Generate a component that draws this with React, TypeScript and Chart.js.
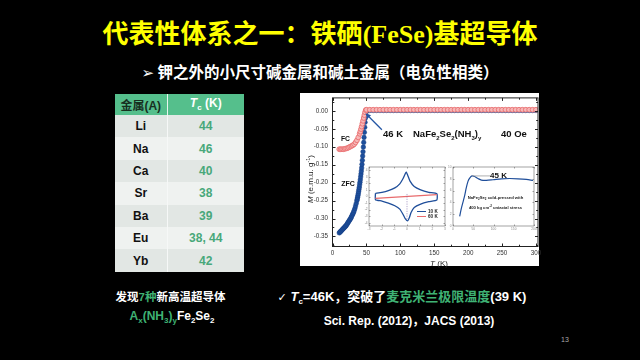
import React, { useEffect, useRef } from 'react';
import { Chart, registerables } from 'chart.js';
Chart.register(...registerables);

// ---------- data ----------
const metals = ['Li', 'Na', 'Ca', 'Sr', 'Ba', 'Eu', 'Yb'];
const tcValues = ['44', '46', '40', '38', '39', '38, 44', '42'];

const fcT = [10, 12, 14, 16, 18, 20, 22, 24, 26, 28, 30, 32, 34, 36, 38, 40, 41, 42, 43, 44, 45, 46, 47, 48, 49, 50,
  55, 60, 65, 70, 75, 80, 85, 90, 95, 100, 105, 110, 115, 120, 125, 130, 135, 140, 145, 150, 155, 160, 165, 170, 175,
  180, 185, 190, 195, 200, 205, 210, 215, 220, 225, 230, 235, 240, 245, 250, 255, 260, 265, 270, 275, 280, 285, 290, 295, 300];
const fcM = [-0.107, -0.107, -0.107, -0.107, -0.106, -0.105, -0.104, -0.102, -0.100, -0.098, -0.096, -0.093, -0.088, -0.082, -0.074, -0.064, -0.058, -0.051, -0.044, -0.036, -0.028, -0.020, -0.012, -0.004, 0.002, 0.003,
  0.003, 0.003, 0.003, 0.003, 0.003, 0.003, 0.003, 0.003, 0.003, 0.003, 0.003, 0.003, 0.003, 0.003, 0.003, 0.003, 0.003, 0.003, 0.003, 0.003, 0.003, 0.003, 0.003, 0.003, 0.003,
  0.003, 0.003, 0.003, 0.003, 0.003, 0.003, 0.003, 0.003, 0.003, 0.003, 0.003, 0.003, 0.003, 0.003, 0.003, 0.003, 0.003, 0.003, 0.003, 0.003, 0.003, 0.003, 0.003, 0.003, 0.003];

const zfcT = [10, 11, 12, 13, 14, 15, 16, 17, 18, 19, 20, 21, 22, 23, 24, 25, 26, 27, 28, 29, 30, 31, 32, 33, 34, 35,
  36, 36.5, 37, 37.5, 38, 38.5, 39, 39.5, 40, 40.5, 41, 41.5, 42, 42.5, 43, 43.5, 44, 44.5, 45, 45.5, 46, 46.5, 47, 47.5, 48, 48.5, 49, 49.5, 50,
  55, 60, 65, 70, 75, 80, 85, 90, 95, 100, 105, 110, 115, 120, 125, 130, 135, 140, 145, 150, 155, 160, 165, 170, 175,
  180, 185, 190, 195, 200, 205, 210, 215, 220, 225, 230, 235, 240, 245, 250, 255, 260, 265, 270, 275, 280, 285, 290, 295, 300];
const zfcM = [-0.340, -0.338, -0.336, -0.334, -0.332, -0.330, -0.328, -0.326, -0.324, -0.322, -0.320, -0.317, -0.314, -0.311, -0.308, -0.305, -0.302, -0.299, -0.295, -0.291, -0.287, -0.283, -0.278, -0.272, -0.265, -0.258,
  -0.250, -0.246, -0.241, -0.236, -0.231, -0.225, -0.219, -0.213, -0.206, -0.199, -0.192, -0.184, -0.176, -0.168, -0.159, -0.149, -0.138, -0.126, -0.114, -0.101, -0.088, -0.074, -0.060, -0.046, -0.032, -0.020, -0.010, -0.003, 0.000,
  0.001, 0.001, 0.001, 0.001, 0.001, 0.001, 0.001, 0.001, 0.001, 0.001, 0.001, 0.001, 0.001, 0.001, 0.001, 0.001, 0.001, 0.001, 0.001, 0.001, 0.001, 0.001, 0.001, 0.001, 0.001,
  0.001, 0.001, 0.001, 0.001, 0.001, 0.001, 0.001, 0.001, 0.001, 0.001, 0.001, 0.001, 0.001, 0.001, 0.001, 0.001, 0.001, 0.001, 0.001, 0.001, 0.001, 0.001, 0.001, 0.001, 0.001];

const xTicks = [0, 50, 100, 150, 200, 250, 300];
const xMinor = [25, 75, 125, 175, 225, 275];
const yTicks = [0, -0.05, -0.1, -0.15, -0.2, -0.25, -0.3, -0.35];
const yMinor = [0.025, -0.025, -0.075, -0.125, -0.175, -0.225, -0.275, -0.325, -0.375];
const arrowFrom = { x: 72.8, y: -0.0527 };
const arrowTo = { x: 48.5, y: -0.0065 };

// inset 1: M-H loops
const in1LoopX = [-2.49, -1.98, -1.47, -0.96, -0.57, -0.32, -0.14, -0.06, 0.06, 0.24, 0.57, 1.08, 1.72, 2.36,
  2.36, 1.72, 1.08, 0.57, 0.32, 0.19, 0.06, -0.14, -0.32, -0.57, -0.96, -1.47, -1.98, -2.49, -2.49];
const in1LoopY = [0.49, 0.64, 0.90, 1.31, 1.93, 2.70, 3.47, 3.73, 3.22, 2.34, 1.52, 1.00, 0.64, 0.44,
  -0.54, -0.80, -1.16, -1.67, -2.44, -3.22, -3.73, -3.37, -2.70, -1.93, -1.41, -1.00, -0.69, -0.49, 0.49];
const in1RedX = [-2.49, 2.36];
const in1RedY = [-0.28, 0.28];
const in1DashX = [0, 0];
const in1DashY = [0.39, -3.47];
const in1XTicks = [-3, -2, -1, 0, 1, 2, 3];
const in1YTicks = [-4, -3, -2, -1, 0, 1, 2, 3, 4];

// inset 2: susceptibility vs T
const in2T = [16.5, 20.6, 24.7, 28.8, 32.9, 37.0, 41.2, 46.9, 53.5, 61.7, 70.0, 82.3, 98.8, 119.3, 139.9, 160.5, 181.1, 197.5];
const in2V = [1.62, 2.97, 4.05, 5.14, 6.49, 7.57, 8.11, 8.49, 8.38, 8.05, 7.78, 7.73, 7.84, 8.0, 8.05, 8.0, 7.89, 7.73];
const in2LeaderX = [47, 92];
const in2LeaderY = [8.49, 8.49];
const in2XTicks = [0, 50, 100, 150, 200];
const in2YTicks = [0, 2, 4, 6, 8, 10];

const SANS = '"Liberation Sans", Arial, "Noto Sans CJK SC", sans-serif';

const pts = (xs: number[], ys: number[]) => xs.map((x, i) => ({ x, y: ys[i] }));

function frameTicks(o: any) {
  return {
    id: 'frameTicks',
    afterDatasetsDraw(chart: any) {
      const { ctx, chartArea: a, scales } = chart;
      ctx.save();
      ctx.strokeStyle = o.color;
      ctx.lineWidth = o.lw;
      ctx.beginPath();
      const vx = (vals: number[], len: number) => vals.forEach((v) => {
        const p = Math.round(scales.x.getPixelForValue(v)) + 0.5;
        ctx.moveTo(p, a.bottom); ctx.lineTo(p, a.bottom - len);
        ctx.moveTo(p, a.top); ctx.lineTo(p, a.top + len);
      });
      const vy = (vals: number[], len: number) => vals.forEach((v) => {
        const p = Math.round(scales.y.getPixelForValue(v)) + 0.5;
        if (p < a.top || p > a.bottom) return;
        ctx.moveTo(a.left, p); ctx.lineTo(a.left + len, p);
        ctx.moveTo(a.right, p); ctx.lineTo(a.right - len, p);
      });
      vx(o.xTicks, o.major); vx(o.xMinor || [], o.minor);
      vy(o.yTicks, o.major); vy(o.yMinor || [], o.minor);
      ctx.stroke();
      ctx.strokeRect(a.left, a.top, a.right - a.left, a.bottom - a.top);
      ctx.restore();
    },
  };
}

const arrowPlugin = {
  id: 'arrow',
  afterDatasetsDraw(chart: any) {
    const { ctx, scales } = chart;
    const x1 = scales.x.getPixelForValue(arrowFrom.x), y1 = scales.y.getPixelForValue(arrowFrom.y);
    const x2 = scales.x.getPixelForValue(arrowTo.x), y2 = scales.y.getPixelForValue(arrowTo.y);
    const ang = Math.atan2(y2 - y1, x2 - x1);
    ctx.save();
    ctx.strokeStyle = '#2456a4';
    ctx.fillStyle = '#2456a4';
    ctx.lineWidth = 1.3;
    ctx.beginPath();
    ctx.moveTo(x1, y1);
    ctx.lineTo(x2 - 4 * Math.cos(ang), y2 - 4 * Math.sin(ang));
    ctx.stroke();
    ctx.beginPath();
    ctx.moveTo(x2, y2);
    ctx.lineTo(x2 - 6 * Math.cos(ang - 0.45), y2 - 6 * Math.sin(ang - 0.45));
    ctx.lineTo(x2 - 6 * Math.cos(ang + 0.45), y2 - 6 * Math.sin(ang + 0.45));
    ctx.closePath();
    ctx.fill();
    ctx.restore();
  },
};

function axisScale(min: number, max: number, ticks: number[], size: number, fit: (s: any) => void, extra: any = {}) {
  return {
    type: 'linear', min, max,
    grid: { display: false, drawTicks: false },
    border: { display: false },
    afterBuildTicks: (s: any) => { s.ticks = ticks.map((v) => ({ value: v })); },
    afterFit: (s: any) => {
      fit(s);
      s.paddingTop = 0; s.paddingBottom = 0; s.paddingLeft = 0; s.paddingRight = 0;
    },
    ticks: { autoSkip: false, maxRotation: 0, font: { size, family: SANS }, ...extra },
  };
}

function mainConfig(): any {
  return {
    type: 'scatter',
    data: {
      datasets: [
        { label: 'FC', data: pts(fcT, fcM), pointRadius: 2.4, pointBorderWidth: 0.9, pointBackgroundColor: '#f6b8b8', pointBorderColor: '#ea7072', order: 1 },
        { label: 'ZFC', data: pts(zfcT, zfcM), pointRadius: 2.3, pointBorderWidth: 0.5, pointBackgroundColor: '#1d4f9c', pointBorderColor: '#173f84', order: 2 },
      ],
    },
    options: {
      responsive: false, animation: false, events: [],
      layout: { padding: { top: 1, right: 12, bottom: 0, left: 0 } },
      plugins: { legend: { display: false }, tooltip: { enabled: false } },
      scales: {
        x: axisScale(0, 303, xTicks, 6.3, (s: any) => { s.height = 20.5; }, { color: '#333', padding: 3 }),
        y: axisScale(-0.378, 0.036, yTicks, 6.3, (s: any) => { s.width = 32.5; }, { color: '#333', padding: 4.5, callback: (v: any) => Number(v).toFixed(2) }),
      },
    },
    plugins: [frameTicks({ color: '#222', lw: 1, major: 3, minor: 1.8, xTicks, xMinor, yTicks, yMinor }), arrowPlugin],
  };
}

function inset1Config(): any {
  return {
    type: 'scatter',
    data: {
      datasets: [
        { data: pts(in1DashX, in1DashY), showLine: true, borderColor: '#7d68a8', borderWidth: 0.6, borderDash: [1.2, 1.2], pointRadius: 0 },
        { data: pts(in1RedX, in1RedY), showLine: true, borderColor: '#e86a6c', borderWidth: 1.1, pointRadius: 0 },
        { data: pts(in1LoopX, in1LoopY), showLine: true, borderColor: '#1f4e9a', borderWidth: 1.3, pointRadius: 0, tension: 0.15 },
      ],
    },
    options: {
      responsive: false, animation: false, events: [],
      layout: { padding: { top: 5, right: 10, bottom: 0, left: 0 } },
      plugins: { legend: { display: false }, tooltip: { enabled: false } },
      scales: {
        x: axisScale(-3, 3, in1XTicks, 3.2, (s: any) => { s.height = 18; }, { color: '#888', padding: 1.5 }),
        y: axisScale(-4.5, 4.5, in1YTicks, 3.2, (s: any) => { s.width = 14; }, { color: '#888', padding: 1.5 }),
      },
    },
    plugins: [frameTicks({ color: '#666', lw: 0.6, major: 1.5, minor: 1, xTicks: in1XTicks, yTicks: in1YTicks })],
  };
}

function inset2Config(): any {
  return {
    type: 'scatter',
    data: {
      datasets: [
        { data: pts(in2LeaderX, in2LeaderY), showLine: true, borderColor: '#9a9a9a', borderWidth: 0.8, pointRadius: 0 },
        { data: pts(in2T, in2V), showLine: true, borderColor: '#1f4e9a', borderWidth: 1.2, pointRadius: 0, tension: 0.3 },
      ],
    },
    options: {
      responsive: false, animation: false, events: [],
      layout: { padding: { top: 5, right: 10, bottom: 0, left: 0 } },
      plugins: { legend: { display: false }, tooltip: { enabled: false } },
      scales: {
        x: axisScale(0, 200, in2XTicks, 3.2, (s: any) => { s.height = 18; }, { color: '#888', padding: 1.5 }),
        y: axisScale(0, 10, in2YTicks, 3.2, (s: any) => { s.width = 13; }, { color: '#888', padding: 1.5 }),
      },
    },
    plugins: [frameTicks({ color: '#666', lw: 0.6, major: 1.5, minor: 1, xTicks: in2XTicks, yTicks: in2YTicks })],
  };
}

function ChartCanvas({ make, left, top, width, height }: any) {
  const ref = useRef<HTMLCanvasElement>(null);
  useEffect(() => {
    const chart = new Chart(ref.current as HTMLCanvasElement, make());
    return () => chart.destroy();
  }, []);
  return (
    <canvas ref={ref} width={width} height={height}
      style={{ position: 'absolute', left, top, width, height }} />
  );
}

const abs = (left: number, top: number, extra: any = {}): any => ({ position: 'absolute', left, top, whiteSpace: 'nowrap', ...extra });
const center = (cx: number, cy: number, extra: any = {}): any => ({ position: 'absolute', left: cx, top: cy, transform: 'translate(-50%, -50%)', whiteSpace: 'nowrap', ...extra });

export default function App() {
  const GREEN = '#3fb274';
  return (
    <div style={{ position: 'fixed', left: 0, top: 0, width: 640, height: 360, background: '#000', overflow: 'hidden', fontFamily: SANS }}>
      {/* title */}
      <div style={center(320, 33, { color: '#ffff00', fontWeight: 'bold', fontSize: 26, fontFamily: '"Noto Sans CJK SC", sans-serif', lineHeight: '30px' })}>
        代表性体系之一：铁硒<span style={{ fontFamily: '"Liberation Serif", serif' }}>(FeSe)</span>基超导体
      </div>
      <div style={center(320, 72, { color: '#fff', fontWeight: 'bold', fontSize: 15.5, fontFamily: '"Noto Sans CJK SC", sans-serif', lineHeight: '18px' })}>
        <span style={{ fontFamily: '"DejaVu Sans", sans-serif', fontWeight: 'normal', fontSize: 15 }}>➢</span> 钾之外的小尺寸碱金属和碱土金属（电负性相类）
      </div>

      {/* table */}
      <table style={{ position: 'absolute', left: 115, top: 94, width: 129, borderCollapse: 'collapse', tableLayout: 'fixed', fontFamily: SANS, fontWeight: 'bold', fontSize: 12 }}>
        <colgroup><col style={{ width: 52 }} /><col style={{ width: 77 }} /></colgroup>
        <tbody>
          <tr style={{ height: 21, background: '#55bf8c' }}>
            <td style={{ padding: 0, textAlign: 'center', color: '#17301f', borderRight: '1px solid #e8f5ee' }}>金属(A)</td>
            <td style={{ padding: 0, textAlign: 'center', color: '#fff' }}><i>T</i><sub style={{ fontSize: 8 }}>c</sub> (K)</td>
          </tr>
          {metals.map((m, i) => (
            <tr key={m} style={{ height: 22.4, background: i % 2 === 0 ? '#e2e7e4' : '#eff2f0' }}>
              <td style={{ padding: 0, textAlign: 'center', color: '#111', borderRight: '1px solid #f6f8f7' }}>{m}</td>
              <td style={{ padding: 0, textAlign: 'center', color: '#48a87a' }}>{tcValues[i]}</td>
            </tr>
          ))}
        </tbody>
      </table>

      {/* main figure */}
      <div style={abs(300, 93, { width: 239, height: 173, background: '#fff' })} />
      <ChartCanvas make={mainConfig} left={300} top={93} width={250} height={174} />
      <ChartCanvas make={inset1Config} left={355} top={162} width={100} height={82} />
      <ChartCanvas make={inset2Config} left={440} top={162} width={104} height={82} />

      {/* main figure text */}
      <div style={center(309.5, 179, { transform: 'translate(-50%, -50%) rotate(-90deg)', fontSize: 8, color: '#222' })}>
        <i>M</i> (e.m.u. g<sup style={{ fontSize: 5.5 }}>-1</sup>)
      </div>
      <div style={center(439, 262.5, { fontSize: 8, color: '#222' })}><i>T</i> (K)</div>
      <div style={center(345.5, 138, { fontSize: 6.8, fontWeight: 'bold', color: '#111' })}>FC</div>
      <div style={center(348, 183, { fontSize: 7, fontWeight: 'bold', color: '#111' })}>ZFC</div>
      <div style={abs(383, 128, { fontSize: 9.5, fontWeight: 'bold', color: '#111', lineHeight: '12px' })}>46 K</div>
      <div style={abs(413, 128, { fontSize: 9.5, fontWeight: 'bold', color: '#111', lineHeight: '12px' })}>
        NaFe<sub style={{ fontSize: 6 }}>2</sub>Se<sub style={{ fontSize: 6 }}>2</sub>(NH<sub style={{ fontSize: 6 }}>3</sub>)<sub style={{ fontSize: 6 }}>y</sub>
      </div>
      <div style={abs(501, 128, { fontSize: 9.5, fontWeight: 'bold', color: '#111', lineHeight: '12px' })}>40 Oe</div>

      {/* inset 1 legend */}
      <div style={abs(416.5, 211.2, { width: 9, height: 0, borderTop: '1px solid #1f4e9a' })} />
      <div style={abs(416.5, 216.2, { width: 9, height: 0, borderTop: '1px solid #e86a6c' })} />
      <div style={abs(428, 208.5, { fontSize: 4.6, fontWeight: 'bold', color: '#222', lineHeight: '5px' })}>10 K</div>
      <div style={abs(428, 213.5, { fontSize: 4.6, fontWeight: 'bold', color: '#222', lineHeight: '5px' })}>60 K</div>

      {/* inset 2 text */}
      <div style={center(498.5, 174.5, { fontSize: 8, fontWeight: 'bold', color: '#111' })}>45 K</div>
      <div style={center(495.5, 198, { fontSize: 4.2, fontWeight: 'bold', color: '#222' })}>
        NaFe<sub style={{ fontSize: 3 }}>2</sub>Se<sub style={{ fontSize: 3 }}>2</sub> cold-pressed with
      </div>
      <div style={center(495.5, 207, { fontSize: 4.2, fontWeight: 'bold', color: '#222' })}>
        400 kg cm<sup style={{ fontSize: 3 }}>-2</sup> uniaxial stress
      </div>

      {/* bottom texts */}
      <div style={center(170.5, 296, { fontSize: 11.5, fontWeight: 'bold', color: '#fff' })}>
        发现<span style={{ color: GREEN }}>7种</span>新高温超导体
      </div>
      <div style={center(172, 317, { fontSize: 12, fontWeight: 'bold', color: '#fff' })}>
        <span style={{ color: GREEN }}>A<sub style={{ fontSize: 8 }}>x</sub>(NH<sub style={{ fontSize: 8 }}>3</sub>)<sub style={{ fontSize: 8 }}>y</sub></span>Fe<sub style={{ fontSize: 8 }}>2</sub>Se<sub style={{ fontSize: 8 }}>2</sub>
      </div>
      <div style={center(402, 296, { fontSize: 13, fontWeight: 'bold', color: '#fff' })}>
        <span style={{ fontFamily: '"DejaVu Sans", sans-serif', fontWeight: 'normal', fontSize: 11 }}>✓</span> <i>T</i><sub style={{ fontSize: 8 }}>c</sub>=46K，突破了<span style={{ color: GREEN }}>麦克米兰极限温度</span>(39 K)
      </div>
      <div style={center(409, 319, { fontSize: 12, fontWeight: 'bold', color: '#fff' })}>
        Sci. Rep. (2012)，JACS (2013)
      </div>
      <div style={center(565, 339, { fontSize: 7, color: '#aaa' })}>13</div>
    </div>
  );
}
